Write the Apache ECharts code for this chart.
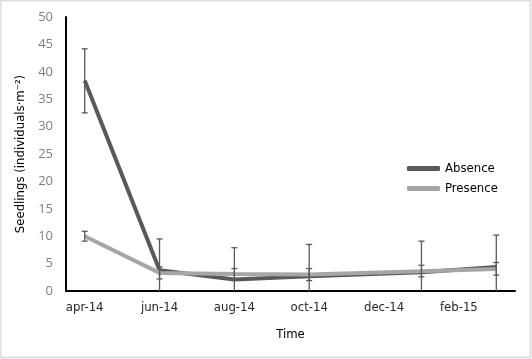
<!DOCTYPE html>
<html>
<head>
<meta charset="utf-8">
<script src="https://cdn.jsdelivr.net/npm/echarts@6/dist/echarts.min.js"></script>
<style>
  html, body { margin: 0; padding: 0; background: #fff; }
  #chart { width: 532px; height: 359px; }
</style>
</head>
<body>
<div id="chart"></div>
<script>
// monthly categories, labels shown every other month
const months = ['apr-14', 'may-14', 'jun-14', 'jul-14', 'aug-14', 'sep-14',
  'oct-14', 'nov-14', 'dec-14', 'jan-15', 'feb-15', 'mar-15'];

// sampled months only (null = no sampling)
const absence = [38.4, null, 3.8, null, 2.1, null, 2.7, null, null, 3.4, null, 4.4];
const presence = [10.0, null, 3.3, null, 3.1, null, 3.0, null, null, 3.6, null, 4.0];

// error bars [month, low, high]
const absenceErr = [
  ['apr-14', 32.5, 44.2],
  ['jun-14', -2.0, 9.5],
  ['aug-14', -3.7, 7.9],
  ['oct-14', -3.1, 8.5],
  ['jan-15', -2.3, 9.1],
  ['mar-15', -1.4, 10.2],
];
const presenceErr = [
  ['apr-14', 9.1, 10.9],
  ['jun-14', 2.2, 4.4],
  ['aug-14', 2.1, 4.1],
  ['oct-14', 1.9, 4.1],
  ['jan-15', 2.6, 4.7],
  ['mar-15', 2.9, 5.2],
];

const yTicks = { min: 0, max: 50, interval: 5 };

const narrow = "'DejaVu Sans Condensed', 'Liberation Sans Narrow', 'Liberation Sans', sans-serif";

const chart = echarts.init(document.getElementById('chart'), null, { renderer: 'canvas' });

// draw error bar: vertical line + caps (cap dropped when clipped by axis)
const errRender = (params, api) => {
  const x = api.value(0);
  const lo = api.value(1);
  const hi = api.value(2);
  const loC = Math.max(lo, yTicks.min);
  const pHi = api.coord([x, hi]);
  const pLo = api.coord([x, loC]);
  const half = 3;
  const style = { stroke: '#595959', lineWidth: 1.3 };
  const children = [
    { type: 'line', shape: { x1: pHi[0], y1: pHi[1], x2: pLo[0], y2: pLo[1] }, style },
    { type: 'line', shape: { x1: pHi[0] - half, y1: pHi[1], x2: pHi[0] + half, y2: pHi[1] }, style },
  ];
  if (lo >= yTicks.min) {
    children.push({ type: 'line', shape: { x1: pLo[0] - half, y1: pLo[1], x2: pLo[0] + half, y2: pLo[1] }, style });
  }
  return { type: 'group', children };
};

const option = {
  animation: false,
  backgroundColor: '#fff',
  graphic: [
    {
      type: 'rect',
      shape: { x: 0.5, y: 0.5, width: 530, height: 357 },
      style: { fill: 'none', stroke: '#dedede', lineWidth: 2 },
      silent: true,
    },
  ],
  grid: { left: 66, right: 17, top: 17, bottom: 68 },
  legend: {
    orient: 'vertical',
    left: 402,
    top: 157,
    icon: 'roundRect',
    itemWidth: 33,
    itemHeight: 5,
    itemGap: 7,
    textStyle: { fontFamily: narrow, fontSize: 13, color: '#000' },
    data: ['Absence', 'Presence'],
  },
  xAxis: {
    type: 'category',
    data: months,
    boundaryGap: true,
    name: 'Time',
    nameLocation: 'middle',
    nameGap: 37,
    nameTextStyle: { fontFamily: narrow, fontSize: 13, color: '#000' },
    axisLine: { lineStyle: { color: '#000', width: 2 } },
    axisTick: { show: false },
    axisLabel: { interval: 1, margin: 10, fontFamily: narrow, fontSize: 13, color: '#262626' },
  },
  yAxis: {
    type: 'value',
    min: yTicks.min,
    max: yTicks.max,
    interval: yTicks.interval,
    name: 'Seedlings (individuals·m⁻²)',
    nameLocation: 'middle',
    nameGap: 39,
    nameTextStyle: { fontFamily: narrow, fontSize: 13, color: '#000' },
    axisLine: { show: true, lineStyle: { color: '#000', width: 2 } },
    axisTick: { show: false },
    splitLine: { show: false },
    axisLabel: { margin: 13, fontFamily: "'Open Sans', 'Liberation Sans', sans-serif", fontSize: 13, color: '#7f7f7f' },
  },
  series: [
    {
      name: 'Absence',
      type: 'line',
      data: absence,
      connectNulls: true,
      showSymbol: false,
      symbol: 'none',
      lineStyle: { color: '#595959', width: 4 },
      itemStyle: { color: '#595959' },
      z: 3,
    },
    {
      name: 'Presence',
      type: 'line',
      data: presence,
      connectNulls: true,
      showSymbol: false,
      symbol: 'none',
      lineStyle: { color: '#a6a6a6', width: 4 },
      itemStyle: { color: '#a6a6a6' },
      z: 4,
    },
    {
      type: 'custom',
      data: absenceErr,
      renderItem: errRender,
      clip: true,
      z: 5,
    },
    {
      type: 'custom',
      data: presenceErr,
      renderItem: errRender,
      clip: true,
      z: 5,
    },
  ],
};

chart.setOption(option);
</script>
</body>
</html>
